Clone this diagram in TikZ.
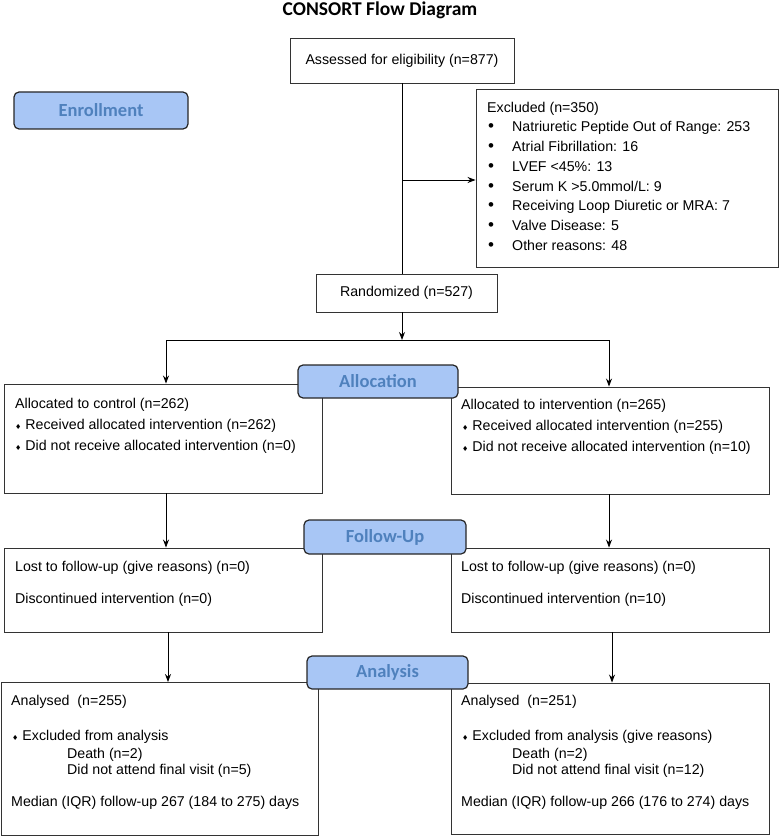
\documentclass[tikz,border=0pt]{standalone}
\usepackage{fontspec}
\setmainfont{Liberation Sans}
\newfontfamily\titlefont{Carlito}
\newfontfamily\symfont{DejaVu Sans}
\usepackage{tikz}
\usetikzlibrary{arrows.meta,positioning}
\definecolor{phasefill}{RGB}{168,198,245}
\definecolor{phasetext}{RGB}{79,129,189}
\newcommand{\dmd}{{\symfont\fontsize{7}{7}\selectfont ♦}\hspace{4pt}}

\begin{document}
\begin{tikzpicture}[
x=1pt,y=-1pt,
font=\fontsize{14.2}{17}\selectfont,
box/.style={draw=black!80,line width=0.9pt,inner sep=0pt},
phase/.style={draw=black!85,line width=1.2pt,rounded corners=5pt,fill=phasefill,
  text=phasetext,inner sep=0pt,font=\titlefont\bfseries\fontsize{18.5}{20}\selectfont},
txt/.style={anchor=west,inner sep=0pt,text height=10.5pt,text depth=3pt},
flow/.style={-{Stealth[length=8pt,width=6pt]},line width=0.9pt},
scale=1]
    \useasboundingbox (0,0) rectangle (780,837);

    % Title
    \node[font=\titlefont\bfseries\fontsize{19.5}{21}\selectfont] (title) at (380,10) {CONSORT Flow Diagram};

    % Boxes
    \node[box,minimum width=224,minimum height=45] (assess) at (402,60.5) {Assessed for eligibility (n=877)};
    \node[box,minimum width=302,minimum height=178] (excl) at (627,178) {};
    \node[box,minimum width=181,minimum height=38] (random) at (406.5,293) {Randomized (n=527)};
    \node[box,minimum width=318,minimum height=109] (ctrl) at (163,438.5) {};
    \node[box,minimum width=318,minimum height=107] (intv) at (610,440.5) {};
    \node[box,minimum width=318,minimum height=84] (lfu) at (163,590) {};
    \node[box,minimum width=318,minimum height=84] (rfu) at (610,590) {};
    \node[box,minimum width=317,minimum height=153] (lana) at (159.5,759) {};
    \node[box,minimum width=318,minimum height=151] (rana) at (610,758.5) {};

    % Connectors
    \coordinate (split) at (402,180);
    \coordinate (mid) at (402,340);
    \coordinate (lsplit) at (166,340);
    \coordinate (rsplit) at (609,340);
    \coordinate (ldown) at (168,0);
    \coordinate (rdown) at (612,0);
    \draw[line width=0.9pt] (assess.south) -- (assess.south |- random.north);
    \draw[flow] (split) -- (split -| excl.west);
    \draw[flow] (mid |- random.south) -- (mid);
    \draw[line width=0.9pt] (lsplit) -- (rsplit);
    \draw[flow] (lsplit) -- (lsplit |- ctrl.north);
    \draw[flow] (rsplit) -- (rsplit |- intv.north);
    \draw[flow] (lsplit |- ctrl.south) -- (lsplit |- lfu.north);
    \draw[flow] (rsplit |- intv.south) -- (rsplit |- rfu.north);
    \draw[flow] (ldown |- lfu.south) -- (ldown |- lana.north);
    \draw[flow] (rdown |- rfu.south) -- (rdown |- rana.north);

    % Phase labels
    \node[phase,minimum width=174,minimum height=37] (enroll) at (101,110.5) {Enrollment};
    \node[phase,minimum width=160,minimum height=33] (alloc) at (378,381.5) {Allocation};
    \node[phase,minimum width=162,minimum height=34] (follow) at (385,537) {Follow-Up};
    \node[phase,minimum width=161,minimum height=33] (anal) at (387.5,672.5) {Analysis};

    % Excluded list
    \node[txt] (exhead) at (487,109) {Excluded (n=350)};
    \foreach \item [count=\k] in {Natriuretic Peptide Out of Range: 253,Atrial Fibrillation: 16,
        LVEF <45\%: 13,Serum K >5.0mmol/L: 9,Receiving Loop Diuretic or MRA: 7,
        Valve Disease: 5,Other reasons: 48}
    {
        \node[txt,font=\fontsize{17}{17}\selectfont] (exbul\k) at (488,108.2+19.8*\k) {•};
        \node[txt] (exitem\k) at (512,108.2+19.8*\k) {\item};
    }

    % Allocation texts
    \node[txt] (ctrlhead) at (15,405) {Allocated to control (n=262)};
    \node[txt] (ctrlrec) at (15,426) {\dmd Received allocated intervention (n=262)};
    \node[txt] (ctrlnot) at (15,447) {\dmd Did not receive allocated intervention (n=0)};
    \node[txt] (intvhead) at (461,406) {Allocated to intervention (n=265)};
    \node[txt] (intvrec) at (462,427) {\dmd Received allocated intervention (n=255)};
    \node[txt] (intvnot) at (462,448) {\dmd Did not receive allocated intervention (n=10)};

    % Follow-up texts
    \node[txt] (lfulost) at (15,568) {Lost to follow-up (give reasons) (n=0)};
    \node[txt] (lfudisc) at (15,600) {Discontinued intervention (n=0)};
    \node[txt] (rfulost) at (461,568) {Lost to follow-up (give reasons) (n=0)};
    \node[txt] (rfudisc) at (461,600) {Discontinued intervention (n=10)};

    % Analysis texts
    \node[txt] (lanahead) at (11,702) {Analysed\ \ (n=255)};
    \node[txt] (lanaexc) at (12,737) {\dmd Excluded from analysis};
    \node[txt] (lanadeath) at (67,755) {Death (n=2)};
    \node[txt] (lanavisit) at (67,771) {Did not attend final visit (n=5)};
    \node[txt] (lanamed) at (11,803) {Median (IQR) follow-up 267 (184 to 275) days};
    \node[txt] (ranahead) at (461,702) {Analysed\ \ (n=251)};
    \node[txt] (ranaexc) at (462,737) {\dmd Excluded from analysis (give reasons)};
    \node[txt] (ranadeath) at (512,755) {Death (n=2)};
    \node[txt] (ranavisit) at (512,771) {Did not attend final visit (n=12)};
    \node[txt] (ranamed) at (461,803) {Median (IQR) follow-up 266 (176 to 274) days};

\end{tikzpicture}
\end{document}
